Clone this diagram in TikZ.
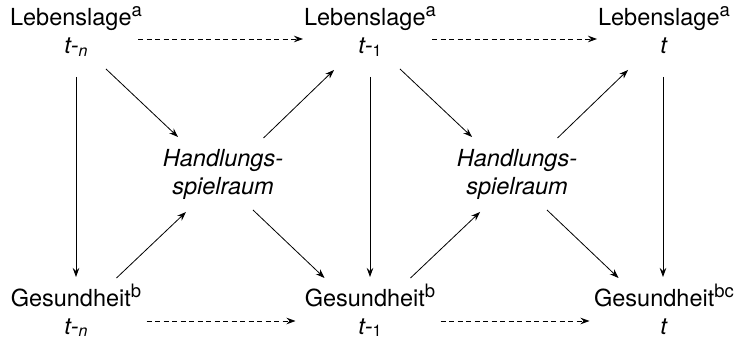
\documentclass[tikz,border=0pt]{standalone}
\usepackage{fontspec}
\setmainfont{TeX Gyre Heros}
\usetikzlibrary{arrows.meta,calc}
\newcommand\supx[1]{\raisebox{9pt}{\fontsize{18.5}{18.5}\selectfont #1}}
\newcommand\subx[1]{\raisebox{-2.5pt}{\fontsize{16}{16}\selectfont #1}}
\begin{document}
\begin{tikzpicture}[x=1pt,y=1pt,
  lbl/.style={inner sep=0pt, outer sep=0pt, align=center, font=\fontsize{23.5}{28}\selectfont},
  arr/.style={-{Stealth[length=9pt,width=6.5pt,inset=3pt]}, line width=0.8pt},
  darr/.style={arr, dash pattern=on 5pt off 3.5pt}]
\useasboundingbox (0,0) rectangle (739,339);
% nodes
\node[lbl] (tl) at (76,304.6) {\strut Lebenslage\supx{a}\\\strut\textit{t-}\subx{\textit{n}}};
\node[lbl] (tm) at (370,304.6) {\strut Lebenslage\supx{a}\\\strut\textit{t-}\subx{1}};
\node[lbl] (tr) at (664,304.6) {\strut Lebenslage\supx{a}\\\strut\textit{t}};
\node[lbl] (h1) at (223,164.1) {\strut\textit{Handlungs-}\\\strut\textit{spielraum}};
\node[lbl] (h2) at (517,164.1) {\strut\textit{Handlungs-}\\\strut\textit{spielraum}};
\node[lbl] (bl) at (76,25.6) {\strut Gesundheit\supx{b}\\\strut\textit{t-}\subx{\textit{n}}};
\node[lbl] (bm) at (370,25.6) {\strut Gesundheit\supx{b}\\\strut\textit{t-}\subx{1}};
\node[lbl] (br) at (664,25.6) {\strut Gesundheit\supx{bc}\\\strut\textit{t}};
% dashed
\draw[darr] ($(tl)+(62,-4.6)$) -- ($(tm)+(-67,-4.6)$);
\draw[darr] ($(tm)+(62,-4.6)$) -- ($(tr)+(-67,-4.6)$);
\draw[darr] ($(bl)+(70.5,-7.6)$) -- ($(bm)+(-74.5,-7.6)$);
\draw[darr] ($(bm)+(70.5,-7.6)$) -- ($(br)+(-74.5,-7.6)$);
% vertical
\draw[arr] ($(tl)+(0,-42.6)$) -- ($(bl)+(0,36.4)$);
\draw[arr] ($(tm)+(0,-42.6)$) -- ($(bm)+(0,36.4)$);
\draw[arr] ($(tr)+(-1,-42.6)$) -- ($(br)+(-1,36.4)$);
% diagonals left
\draw[arr] ($(tl)+(30,-34.6)$) -- ($(h1)+(-45,37.9)$);
\draw[arr] ($(h1)+(40.5,36.9)$) -- ($(tm)+(-36,-35.6)$);
\draw[arr] ($(bl)+(40.5,35.4)$) -- ($(h1)+(-37,-37.1)$);
\draw[arr] ($(h1)+(30,-35.1)$) -- ($(bm)+(-45.5,35.4)$);
% diagonals right
\draw[arr] ($(tm)+(30,-34.6)$) -- ($(h2)+(-45,37.9)$);
\draw[arr] ($(h2)+(40.5,36.9)$) -- ($(tr)+(-36,-35.6)$);
\draw[arr] ($(bm)+(40.5,35.4)$) -- ($(h2)+(-37,-37.1)$);
\draw[arr] ($(h2)+(30,-35.1)$) -- ($(br)+(-45.5,35.4)$);
\end{tikzpicture}
\end{document}
